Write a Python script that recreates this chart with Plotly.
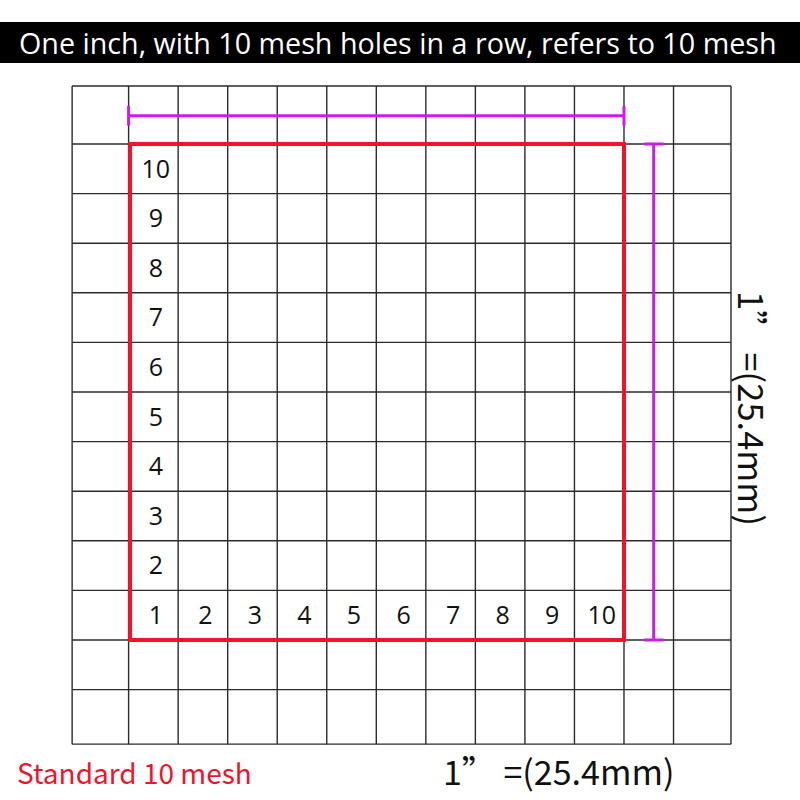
import plotly.graph_objects as go

# mesh definition
mesh_count = 10
col_labels = [str(i) for i in range(1, 11)]
row_labels = [str(i) for i in range(1, 11)]
title_text = "One inch, with 10 mesh holes in a row, refers to 10 mesh"
mesh_label = "Standard 10 mesh"
inch_label = "1” =(25.4mm)"

# extra cells around the 10x10 mesh (outer ones are a bit wider)
x_edges = [-1.14] + list(range(0, mesh_count + 2)) + [12.16]
y_edges = [-2.1, -1] + list(range(0, mesh_count + 1)) + [11.17]

GRID = "#2b2b2b"
RED = "#f0142a"
PURPLE = "#c81ee6"

fig = go.Figure()

# grid lines
for xv in x_edges:
    fig.add_shape(type="line", x0=xv, x1=xv, y0=y_edges[0], y1=y_edges[-1],
                  line=dict(color=GRID, width=1.4))
for yv in y_edges:
    fig.add_shape(type="line", x0=x_edges[0], x1=x_edges[-1], y0=yv, y1=yv,
                  line=dict(color=GRID, width=1.4))

# red square of one inch
fig.add_shape(type="rect", x0=0.03, x1=mesh_count, y0=0, y1=mesh_count,
              line=dict(color=RED, width=4))

# purple dimension lines
dim_y = mesh_count + 0.57
fig.add_shape(type="line", x0=0, x1=mesh_count, y0=dim_y, y1=dim_y,
              line=dict(color=PURPLE, width=3))
for xv in [0, mesh_count]:
    fig.add_shape(type="line", x0=xv, x1=xv, y0=dim_y - 0.2, y1=dim_y + 0.2,
                  line=dict(color=PURPLE, width=3))
dim_x = mesh_count + 0.6
fig.add_shape(type="line", x0=dim_x, x1=dim_x, y0=0, y1=mesh_count,
              line=dict(color=PURPLE, width=3))
for yv in [0, mesh_count]:
    fig.add_shape(type="line", x0=dim_x - 0.2, x1=dim_x + 0.2, y0=yv, y1=yv,
                  line=dict(color=PURPLE, width=3))

# hole numbers
fig.add_trace(go.Scatter(
    x=[i + 0.55 for i in range(mesh_count)], y=[0.45] * mesh_count,
    mode="text", text=col_labels,
    textfont=dict(family="Open Sans", size=25, color="#111"),
    hoverinfo="skip", showlegend=False))
fig.add_trace(go.Scatter(
    x=[0.55] * (mesh_count - 1), y=[i + 0.45 for i in range(1, mesh_count)],
    mode="text", text=row_labels[1:],
    textfont=dict(family="Open Sans", size=25, color="#111"),
    hoverinfo="skip", showlegend=False))

# title banner
fig.add_shape(type="rect", xref="paper", yref="paper", x0=0, x1=1,
              y0=1 - 63 / 800, y1=1 - 22 / 800,
              fillcolor="black", line=dict(width=0), layer="below")
fig.add_annotation(xref="paper", yref="paper", x=0.497, y=1 - 43 / 800,
                   xanchor="center", yanchor="middle",
                   text=title_text, showarrow=False,
                   font=dict(family="Open Sans", size=28.7, color="white"))

fig.add_annotation(x=0.11, y=-2.66, text=mesh_label, showarrow=False,
                   xanchor="center", yanchor="middle",
                   font=dict(family="Noto Sans CJK SC", size=28, color=RED))
fig.add_annotation(x=8.67, y=-2.64, text=inch_label, showarrow=False,
                   xanchor="center", yanchor="middle",
                   font=dict(family="Noto Sans CJK SC", size=34, color="#111"))
fig.add_annotation(x=12.6, y=4.66, text=inch_label, showarrow=False,
                   xanchor="center", yanchor="middle", textangle=90,
                   font=dict(family="Noto Sans CJK SC", size=34.5, color="#111"))

fig.update_xaxes(range=[-2.596, 13.553], visible=False, fixedrange=True)
fig.update_yaxes(range=[-3.226, 12.903], visible=False, fixedrange=True)
fig.update_layout(width=800, height=800, margin=dict(l=0, r=0, t=0, b=0),
                  plot_bgcolor="white", paper_bgcolor="white")

fig.write_html("out.html", config={"displayModeBar": False},
               post_script="document.body.style.margin='0';")
